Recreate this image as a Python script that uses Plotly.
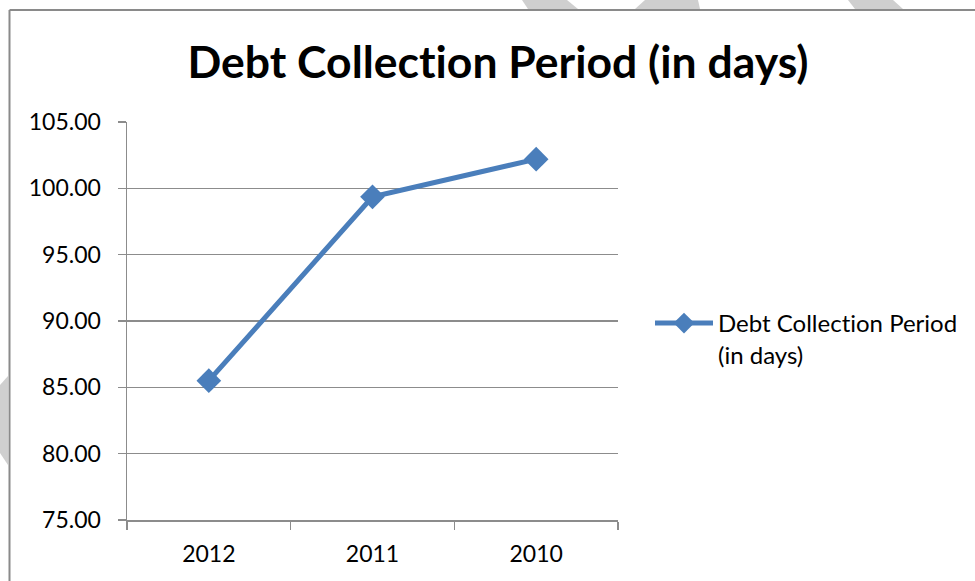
import plotly.graph_objects as go

years = ["2012", "2011", "2010"]
days = [85.5, 99.36, 102.2]
series_name = "Debt Collection Period<br>(in days)"
title_text = "Debt Collection Period (in days)"

W, H = 975, 581
L, R, T, B = 127, 618, 122, 520  # plot area in px

def px(xp):
    return (xp - L) / (R - L)

def py(yp):
    return (B - yp) / (B - T)

FONT = "Lato, Open Sans, sans-serif"
GRID = "#8c8c8c"
BLUE = "#4a7ebb"

fig = go.Figure()
fig.add_trace(go.Scatter(
    x=years, y=days, name=series_name, mode="lines+markers",
    line=dict(color=BLUE, width=5),
    marker=dict(symbol="diamond", size=19, color=BLUE),
    showlegend=True, hoverinfo="skip",
))

shapes = []
# chart border (left & top)
shapes.append(dict(type="line", xref="paper", yref="paper",
                   x0=px(9.5), x1=px(9.5), y0=py(10), y1=py(600),
                   line=dict(color="#8a8a8a", width=2)))
shapes.append(dict(type="line", xref="paper", yref="paper",
                   x0=px(9.5), x1=px(1000), y0=py(10), y1=py(10),
                   line=dict(color="#8a8a8a", width=2)))

# watermark fragments
def poly(pts):
    d = "M " + " L ".join(f"{px(a):.5f},{py(b):.5f}" for a, b in pts) + " Z"
    return dict(type="path", xref="paper", yref="paper", path=d,
                fillcolor="#cfcfcf", line=dict(width=0), layer="below")

shapes.append(poly([(522, 0), (567, 0), (578, 9), (528, 9)]))
shapes.append(poly([(645, 0), (698, 0), (700, 9), (635, 9)]))
shapes.append(poly([(848, 0), (893, 0), (903, 9), (855, 9)]))
shapes.append(poly([(0, 385), (8, 376), (8, 465), (0, 453)]))

fig.update_layout(
    width=W, height=H,
    margin=dict(l=L, r=W - R, t=T, b=H - B, pad=0),
    paper_bgcolor="white", plot_bgcolor="white",
    font=dict(family=FONT, color="#000000", size=23),
    hovermode=False,
    title=dict(text="<b>" + title_text + "</b>", x=px(498), xanchor="center",
               xref="paper", y=1 - 62 / H, yanchor="middle",
               font=dict(family=FONT, size=44.5, color="#000000")),
    xaxis=dict(type="category", range=[-0.5, 2.5], showgrid=False,
               showline=True, linecolor=GRID, linewidth=1.5,
               ticks="outside", tickson="boundaries", ticklen=8,
               tickcolor=GRID, tickwidth=1.5, ticklabelstandoff=13,
               tickfont=dict(family=FONT, size=23, color="#000000")),
    yaxis=dict(range=[75, 105], dtick=5, tick0=75, tickformat=".2f",
               showgrid=True, gridcolor=GRID, gridwidth=1.5,
               showline=True, linecolor=GRID, linewidth=1.5,
               ticks="outside", ticklen=8, tickcolor=GRID, tickwidth=1.5,
               zeroline=False, ticklabelstandoff=12,
               tickfont=dict(family=FONT, size=23, color="#000000")),
    legend=dict(x=px(650), xanchor="left", y=py(301), yanchor="top",
                valign="top", itemwidth=58, bgcolor="rgba(0,0,0,0)",
                font=dict(family=FONT, size=24, color="#000000")),
    shapes=shapes,
)

post = (
    "var s=document.createElement('style');"
    "s.innerHTML='body{margin:0 !important;} text{font-variant-ligatures:none !important;font-feature-settings:\"liga\" 0,\"clig\" 0 !important;}';"
    "document.head.appendChild(s);"
)
fig.write_html("out.html", post_script=post,
               config={"displayModeBar": False, "staticPlot": True})
